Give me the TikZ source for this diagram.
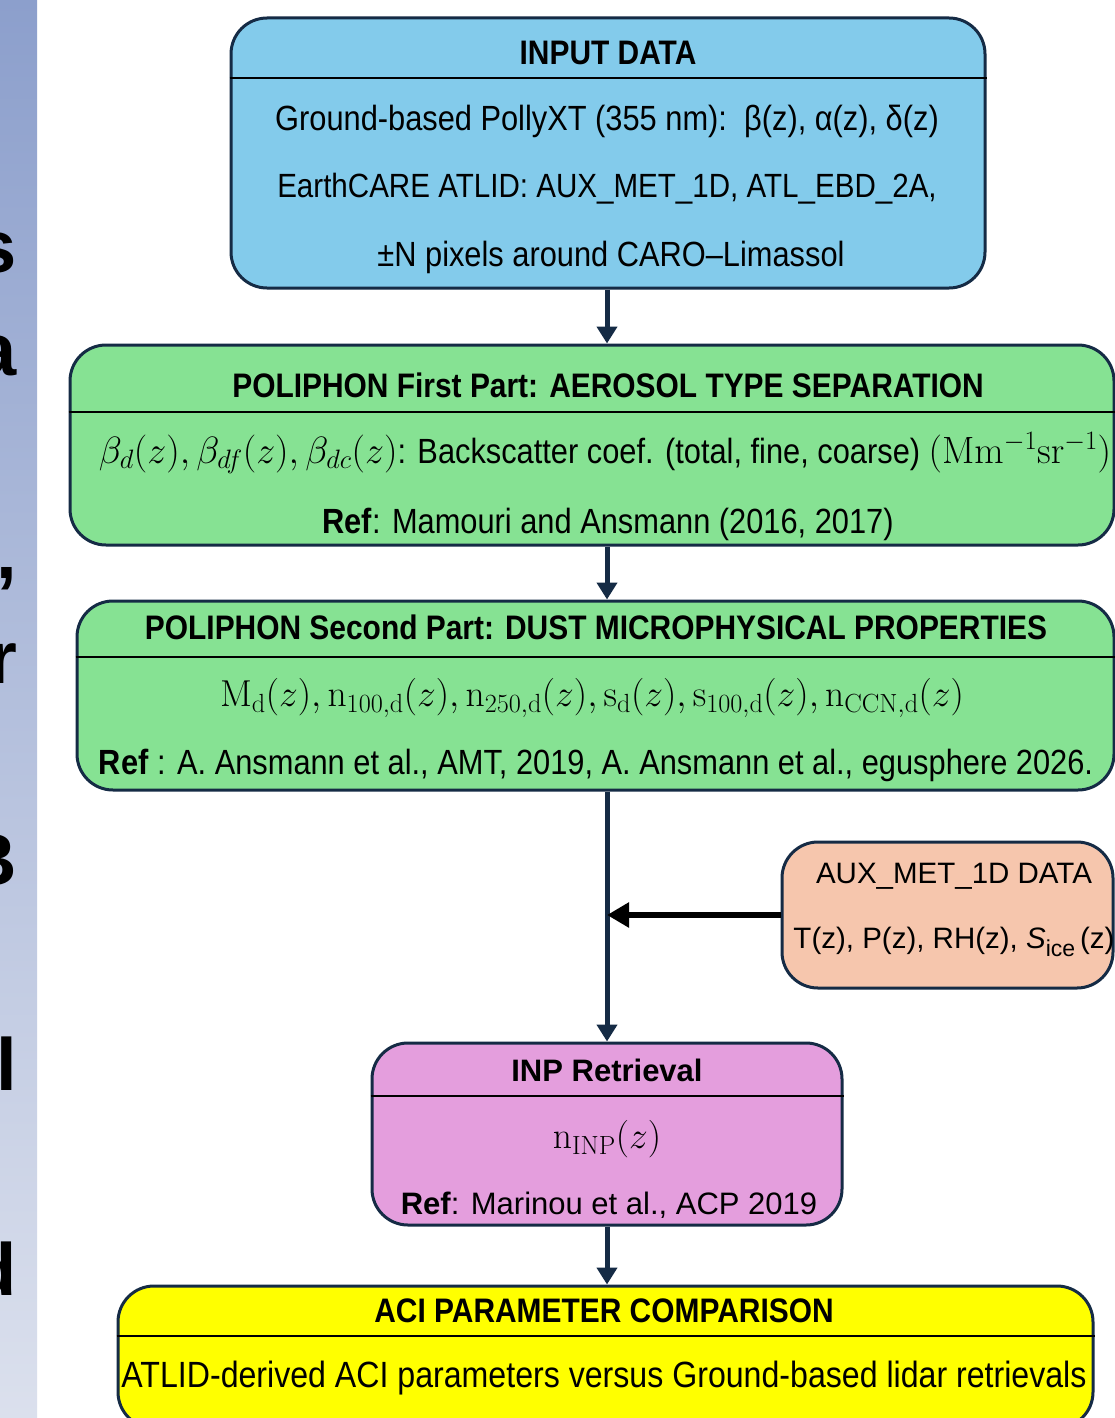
\documentclass[tikz,border=0pt]{standalone}
\usepackage{fix-cm}
\usepackage[no-math]{fontspec}
\setmainfont{Liberation Sans}
\newfontfamily\narrowsf{Liberation Sans}[FakeStretch=0.88]
\usepackage{xcolor}
\usetikzlibrary{positioning, arrows.meta}
\definecolor{inputblue}{HTML}{83CBEB}
\definecolor{polgreen}{HTML}{86E293}
\definecolor{auxpeach}{HTML}{F6C6AD}
\definecolor{inppink}{HTML}{E49EDD}
\definecolor{aciyellow}{HTML}{FFFF00}
\definecolor{edgenavy}{HTML}{152B45}
\definecolor{striptop}{HTML}{8C9FCC}
\definecolor{stripbottom}{HTML}{DBE0ED}

\begin{document}
\begin{tikzpicture}[x=1pt, y=-1pt,
    blockbox/.style={draw=edgenavy, line width=3pt, rounded corners=36pt, inner sep=0pt},
    headrule/.style={draw=black, line width=1.5pt},
    headtxt/.style={inner sep=0pt, font={\narrowsf\bfseries\fontsize{34}{37}\selectfont}},
    bodytxt/.style={inner sep=0pt, font={\narrowsf\fontsize{35}{39}\selectfont}},
    plainhead/.style={inner sep=0pt, font={\bfseries\fontsize{31}{34}\selectfont}},
    plaintxt/.style={inner sep=0pt, font={\fontsize{29.5}{34}\selectfont}},
    mathtxt/.style={inner sep=0pt, font={\fontsize{37.5}{40}\selectfont}},
    stripletter/.style={anchor=base east, inner sep=0pt, font={\bfseries\fontsize{74}{80}\selectfont}},
    flowarrow/.style={draw=edgenavy, line width=5pt, -{Triangle[length=17pt, width=20pt]}},
    sidearrow/.style={draw=black, line width=6pt, -{Triangle[length=22pt, width=24pt]}}]
  \useasboundingbox (0,0) rectangle (1115,1418);
  \fill[white] (0,0) rectangle (1115,1418);

  % slide strip on the left
  \begin{scope}
    \clip (0,0) rectangle (37,1418);
    \shade[top color=striptop, bottom color=stripbottom] (0,0) rectangle (37,1418);
    \foreach \ch/\yy in {s/272, a/375, {,}/578, r/683, B/885, l/1090, d/1295}
      \node[stripletter] (strip\yy) at (17,\yy) {\ch};
  \end{scope}

  \node[blockbox, fill=inputblue, minimum width=754pt, minimum height=270pt] (input) at (608,153) {};
  \node[headtxt] (inputhead) at (608,53) {INPUT DATA};
  \node[bodytxt] (inputa) at (607,121) {Ground-based PollyXT (355 nm):\ \ β(z), α(z), δ(z)};
  \node[bodytxt, font={\narrowsf\fontsize{33.6}{38}\selectfont}] (inputb) at (607,189) {EarthCARE ATLID: AUX\_MET\_1D, ATL\_EBD\_2A,};
  \node[bodytxt] (inputc) at (611,257) {±N pixels around CARO–Limassol};

  \node[blockbox, fill=polgreen, minimum width=1044pt, minimum height=200pt] (first) at (592,445) {};
  \node[headtxt] (firsthead) at (608,385) {POLIPHON First Part: AEROSOL TYPE SEPARATION};
  \node[bodytxt] (firsta) at (605,453) {{\fontsize{38}{40}\selectfont$\beta_d(z), \beta_{df}(z), \beta_{dc}(z)$}: Backscatter coef. (total, fine, coarse) {\fontsize{38}{40}\selectfont$(\mathrm{Mm^{-1}sr^{-1}})$}};
  \node[bodytxt] (firstref) at (608,524) {\textbf{Ref}: Mamouri and Ansmann (2016, 2017)};

  \node[blockbox, fill=polgreen, minimum width=1037pt, minimum height=189pt] (second) at (595.5,695.5) {};
  \node[headtxt] (secondhead) at (596,627) {POLIPHON Second Part: DUST MICROPHYSICAL PROPERTIES};
  \node[mathtxt] (seconda) at (592,698) {$\mathrm{M_d}(z), \mathrm{n_{100,d}}(z), \mathrm{n_{250,d}}(z), \mathrm{s_d}(z), \mathrm{s_{100,d}}(z), \mathrm{n_{CCN,d}}(z)$};
  \node[bodytxt] (secondref) at (596,765) {\textbf{Ref} : A. Ansmann et al., AMT, 2019, A. Ansmann et al., egusphere 2026.};

  \node[blockbox, fill=auxpeach, minimum width=331pt, minimum height=146pt] (aux) at (947.5,915) {};
  \node[plaintxt] (auxhead) at (954,876) {AUX\_MET\_1D DATA};
  \node[plaintxt] (auxa) at (954,942) {T(z), P(z), RH(z), \textit{S}\raisebox{-0.25em}{\fontsize{23}{23}\selectfont ice}\,(z)};

  \node[blockbox, fill=inppink, minimum width=470pt, minimum height=182pt] (inp) at (607,1134) {};
  \node[plainhead] (inphead) at (607,1070) {INP Retrieval};
  \node[mathtxt] (inpa) at (607,1139) {$\mathrm{n_{INP}}(z)$};
  \node[plaintxt, font={\fontsize{31}{34}\selectfont}] (inpref) at (609,1205) {\textbf{Ref}: Marinou et al., ACP 2019};

  \node[blockbox, fill=aciyellow, minimum width=975pt, minimum height=142pt] (aci) at (605.5,1357) {};
  \node[headtxt] (acihead) at (604,1311) {ACI PARAMETER COMPARISON};
  \node[bodytxt, font={\narrowsf\fontsize{36.5}{40}\selectfont}] (acia) at (604,1378) {ATLID-derived ACI parameters versus Ground-based lidar retrievals};

  \foreach \blk/\yy in {input/78, first/412, second/657, inp/1096, aci/1336}
    \draw[headrule] (\blk.west |- 0,\yy) -- (\blk.east |- 0,\yy);

  \coordinate (spine) at (607,0);
  \draw[flowarrow] (spine |- input.south) -- (spine |- first.north);
  \draw[flowarrow] (spine |- first.south) -- (spine |- second.north);
  \draw[flowarrow] (spine |- second.south) -- (spine |- inp.north);
  \draw[flowarrow] (spine |- inp.south) -- (spine |- aci.north);
  \draw[sidearrow] (aux.west) -- (spine |- aux.west);
\end{tikzpicture}
\end{document}
